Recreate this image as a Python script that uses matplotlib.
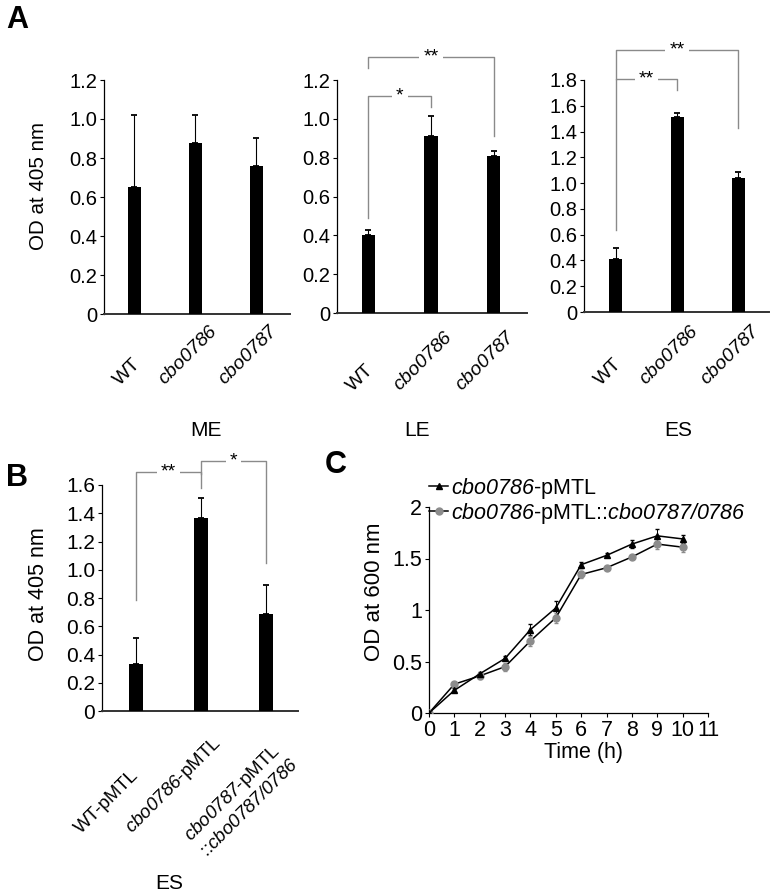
import matplotlib
matplotlib.use("Agg")
import matplotlib.pyplot as plt
import matplotlib.transforms as mtrans
import numpy as np

plt.rcParams['font.family'] = ['Liberation Sans', 'DejaVu Sans']
plt.rcParams['mathtext.fontset'] = 'custom'
# everything inside $...$ is the italic gene name (digits included)
plt.rcParams['mathtext.rm'] = 'Liberation Sans:italic'
plt.rcParams['mathtext.it'] = 'Liberation Sans:italic'
plt.rcParams['mathtext.bf'] = 'Liberation Sans:bold'

# ---------------- data ----------------
a_strains = ["WT", r"$\mathit{cbo0786}$", r"$\mathit{cbo0787}$"]
me_vals = [0.65, 0.877, 0.76]
me_err = [0.37, 0.145, 0.145]
le_vals = [0.40, 0.91, 0.81]
le_err = [0.025, 0.105, 0.025]
es_vals = [0.41, 1.51, 1.04]
es_err = [0.09, 0.035, 0.045]

b_strains = ["WT-pMTL", r"$\mathit{cbo0786}$-pMTL",
             r"$\mathit{cbo0787}$-pMTL" + "\n" + r"::$\mathit{cbo0787/0786}$"]
b_vals = [0.33, 1.365, 0.686]
b_err = [0.19, 0.145, 0.205]

time_h = [0, 1, 2, 3, 4, 5, 6, 7, 8, 9, 10]
c_mut = [0, 0.22, 0.38, 0.53, 0.81, 1.02, 1.44, 1.53, 1.64, 1.72, 1.69]
c_mut_err = [0, 0.02, 0.02, 0.02, 0.05, 0.07, 0.03, 0.02, 0.04, 0.07, 0.04]
c_comp = [0, 0.28, 0.36, 0.45, 0.70, 0.925, 1.345, 1.41, 1.515, 1.64, 1.61]
c_comp_err = [0, 0.02, 0.03, 0.04, 0.05, 0.05, 0.03, 0.02, 0.02, 0.05, 0.05]
c_labels = [r"$\mathit{cbo0786}$-pMTL",
            r"$\mathit{cbo0786}$-pMTL::$\mathit{cbo0787/0786}$"]

# significance brackets: (i, j, y_left_end, y_top, y_right_end, text)
le_sig = [(0, 1, 0.49, 1.12, 1.06, "*"), (0, 2, 1.26, 1.32, 0.91, "**")]
es_sig = [(0, 1, 0.64, 1.81, 1.72, "**"), (0, 2, 1.81, 2.03, 1.43, "**")]
b_sig = [(0, 1, 0.785, 1.69, 1.58, "**"), (1, 2, 1.68, 1.77, 1.05, "*")]

W, H = 775, 896
fig = plt.figure(figsize=(W / 100, H / 100), dpi=100)


def add_ax(left, right, top, bottom):
    return fig.add_axes([left / W, 1 - bottom / H, (right - left) / W, (bottom - top) / H])


def ftext(x, y, s, **kw):
    return fig.text(x / W, 1 - y / H, s, **kw)


GRAY = "#8a8a8a"


def style_bar_ax(ax, ymax, step, fs):
    for s in ["top", "right"]:
        ax.spines[s].set_visible(False)
    ax.spines["left"].set_linewidth(0.9)
    ax.spines["bottom"].set_linewidth(1.4)
    ax.spines["bottom"].set_color("#333333")
    ax.set_ylim(0, ymax)
    ticks = np.round(np.arange(0, ymax + 1e-9, step), 2)
    ax.set_yticks(ticks)
    ax.set_yticklabels(["0" if t == 0 else f"{t:.1f}" for t in ticks], fontsize=fs)
    ax.tick_params(axis="y", length=3, width=0.8, pad=2)
    ax.set_xticks([])


def bars(ax, vals, errs, width=0.21):
    x = np.arange(len(vals))
    ax.bar(x, vals, width=width, color="black", zorder=3)
    ax.errorbar(x, vals, yerr=[np.zeros(len(errs)), errs], fmt="none",
                ecolor="black", elinewidth=0.8, capsize=2, capthick=1.3, zorder=2)


def brackets(ax, sig, fs=14):
    for i, j, yl, yt, yr, txt in sig:
        ax.plot([i, i, j, j], [yl, yt, yt, yr], color=GRAY, lw=1.0, clip_on=False, zorder=1)
        ax.text((i + j) / 2, yt, txt, ha="center", va="center", fontsize=fs,
                bbox=dict(facecolor="white", edgecolor="none", pad=3), clip_on=False, zorder=2)


def xlabels(ax, labels, dx, ybottom, fs):
    tr = mtrans.blended_transform_factory(ax.transData, ax.transAxes)
    for k, lab in enumerate(labels):
        ax.text(k + dx[k], ybottom[k], lab, transform=tr, rotation=45, ha="center",
                va="bottom", fontsize=fs, multialignment="left")


# ---------------- Panel A ----------------
ax_me = add_ax(104, 290, 80, 314)
ax_le = add_ax(337, 527, 80, 313)
ax_es = add_ax(584, 769, 80, 312)

for ax, vals, errs, ymax, grp, gx, xl, yb in [
        (ax_me, me_vals, me_err, 1.2, "ME", 206, (-0.5, 2.55), -0.32),
        (ax_le, le_vals, le_err, 1.2, "LE", 417, (-0.5, 2.53), -0.35),
        (ax_es, es_vals, es_err, 1.8, "ES", 678, (-0.52, 2.5), -0.33)]:
    bars(ax, vals, errs)
    style_bar_ax(ax, ymax, 0.2, 14.5)
    ax.set_xlim(*xl)
    xlabels(ax, a_strains, [-0.12] * 3, [yb] * 3, 14)
    ftext(gx, 430, grp, ha="center", va="center", fontsize=15)

ftext(38, 186, "OD at 405 nm", rotation=90, ha="center", va="center", fontsize=14.8)
brackets(ax_le, le_sig)
brackets(ax_es, es_sig)

ftext(6, 20, "A", fontsize=22, fontweight="bold", va="center", ha="left")

# ---------------- Panel B ----------------
ax_b = add_ax(102, 298, 485, 711)
bars(ax_b, b_vals, b_err)
style_bar_ax(ax_b, 1.6, 0.2, 15)
ax_b.set_xlim(-0.52, 2.49)
ftext(38.5, 594, "OD at 405 nm", rotation=90, ha="center", va="center", fontsize=15.5)
xlabels(ax_b, b_strains, [-0.45, -0.42, -0.38], [-0.558, -0.562, -0.66], 13.5)
brackets(ax_b, b_sig)
ftext(169, 883, "ES", ha="center", va="center", fontsize=15)
ftext(6, 478, "B", fontsize=22, fontweight="bold", va="center", ha="left")

# ---------------- Panel C ----------------
ax_c = add_ax(429, 708, 507, 713)
for s in ["top", "right"]:
    ax_c.spines[s].set_visible(False)
ax_c.spines["left"].set_linewidth(0.9)
ax_c.spines["bottom"].set_linewidth(0.9)
ax_c.errorbar(time_h, c_mut, yerr=c_mut_err, fmt="none", ecolor="black",
              elinewidth=0.7, capsize=1.5, zorder=2)
ax_c.errorbar(time_h, c_comp, yerr=c_comp_err, fmt="none", ecolor="#8c8c8c",
              elinewidth=0.7, capsize=1.5, zorder=2)
l1, = ax_c.plot(time_h, c_mut, color="black", lw=1.1, marker="^", ms=4.5,
                mfc="black", mec="black", zorder=4)
l2, = ax_c.plot(time_h, c_comp, color="black", lw=1.1, marker="o", ms=5,
                mfc="#8c8c8c", mec="#8c8c8c", zorder=3)
ax_c.set_xlim(0, 11)
ax_c.set_ylim(0, 2)
ax_c.set_xticks(range(0, 12))
ax_c.set_xticklabels([str(v) for v in range(0, 12)], fontsize=15.5)
ax_c.set_yticks([0, 0.5, 1, 1.5, 2])
ax_c.set_yticklabels(["0", "0.5", "1", "1.5", "2"], fontsize=15.5)
ax_c.tick_params(axis="both", length=3, width=0.8, pad=2)
ftext(583, 752, "Time (h)", ha="center", va="center", fontsize=15.5)
ftext(374, 592, "OD at 600 nm", rotation=90, ha="center", va="center", fontsize=16)
ax_c.legend([l1, l2], c_labels, loc="upper left", bbox_to_anchor=(429 / W, 1 - 476 / H),
            bbox_transform=fig.transFigure, frameon=False, fontsize=15.5,
            handlelength=0.9, handletextpad=0.1, borderpad=0, borderaxespad=0,
            labelspacing=0.0, numpoints=1)
ftext(325, 465, "C", fontsize=22, fontweight="bold", va="center", ha="left")

fig.savefig("out.png", dpi=100)
